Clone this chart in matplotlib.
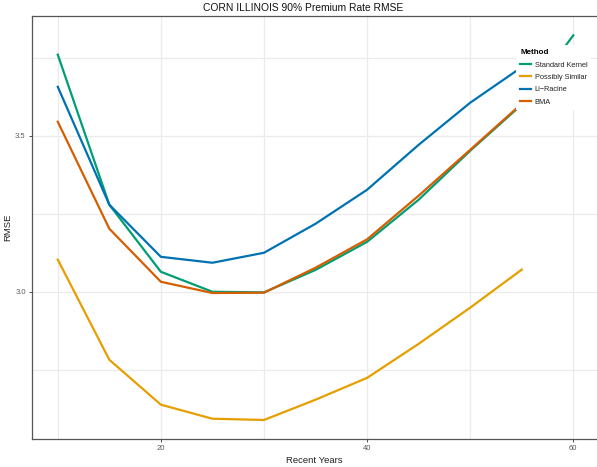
import numpy as np
import matplotlib.pyplot as plt

plt.rcParams['font.family'] = ['Liberation Sans', 'DejaVu Sans']

years = [10, 15, 20, 25, 30, 35, 40, 45, 50, 55]
years_sk = years + [60]

standard_kernel = [3.76, 3.279, 3.064, 3.0, 2.998, 3.07, 3.16, 3.295, 3.452, 3.60, 3.822]
possibly_similar = [3.103, 2.782, 2.638, 2.593, 2.589, 2.654, 2.724, 2.833, 2.949, 3.071]
li_racine = [3.657, 3.279, 3.112, 3.093, 3.125, 3.218, 3.327, 3.471, 3.606, 3.72]
bma = [3.545, 3.202, 3.032, 2.996, 2.997, 3.077, 3.168, 3.308, 3.455, 3.603]

colors = {
    "Standard Kernel": "#009E73",
    "Possibly Similar": "#E69F00",
    "Li\u2212Racine": "#0072B2",
    "BMA": "#D55E00",
}

fig = plt.figure(figsize=(5.97, 4.67), dpi=100)
ax = fig.add_axes([32 / 597, 1 - 439 / 467, 1 - 32 / 597, (439 - 16) / 467])

lw = 1.6
ax.plot(years_sk, standard_kernel, color=colors["Standard Kernel"], lw=lw, label="Standard Kernel")
ax.plot(years, possibly_similar, color=colors["Possibly Similar"], lw=lw, label="Possibly Similar")
ax.plot(years, li_racine, color=colors["Li\u2212Racine"], lw=lw, label="Li\u2212Racine")
ax.plot(years, bma, color=colors["BMA"], lw=lw, label="BMA")

ax.set_xlim(7.5, 62.3)
ax.set_ylim(2.528, 3.884)

ax.set_xticks([20, 40, 60])
ax.set_xticks([10, 30, 50], minor=True)
ax.set_yticks([3.0, 3.5])
ax.set_yticks([2.75, 3.25, 3.75], minor=True)
ax.grid(True, which="both", color="#EBEBEB", lw=0.9)
ax.set_axisbelow(True)
ax.tick_params(which="minor", length=0)
ax.tick_params(which="major", length=2.5, width=0.6, color="#333333",
               labelsize=5.5, labelcolor="#5A5A5A", pad=2)

for s in ["left", "bottom", "top"]:
    ax.spines[s].set_color("#555555")
    ax.spines[s].set_linewidth(0.9)
ax.spines["right"].set_visible(False)

ax.set_xlabel("Recent Years", fontsize=6.8, color="#222222", labelpad=3)
ax.set_ylabel("RMSE", fontsize=6.8, color="#222222")
ax.yaxis.set_label_coords(-20 / 565, 0.5)
fig.text(303 / 597, 1 - 8 / 467, "CORN ILLINOIS 90% Premium Rate RMSE",
         ha="center", va="center", fontsize=7.4, color="#111111")

leg = ax.legend(loc="upper left", bbox_to_anchor=(516 / 597, 1 - 45 / 467),
                bbox_transform=fig.transFigure, title="Method", fontsize=5.3,
                title_fontsize=5.8, frameon=True, fancybox=False, borderaxespad=0,
                handlelength=1.5, handletextpad=0.5, labelspacing=0.72,
                borderpad=0.55)
leg.get_frame().set_edgecolor("none")
leg.get_frame().set_facecolor("white")
leg.get_frame().set_alpha(1)
leg.get_title().set_fontweight("bold")
leg._legend_box.align = "left"
for t in leg.get_texts():
    t.set_color("#222222")

fig.savefig("out.png", dpi=100)
